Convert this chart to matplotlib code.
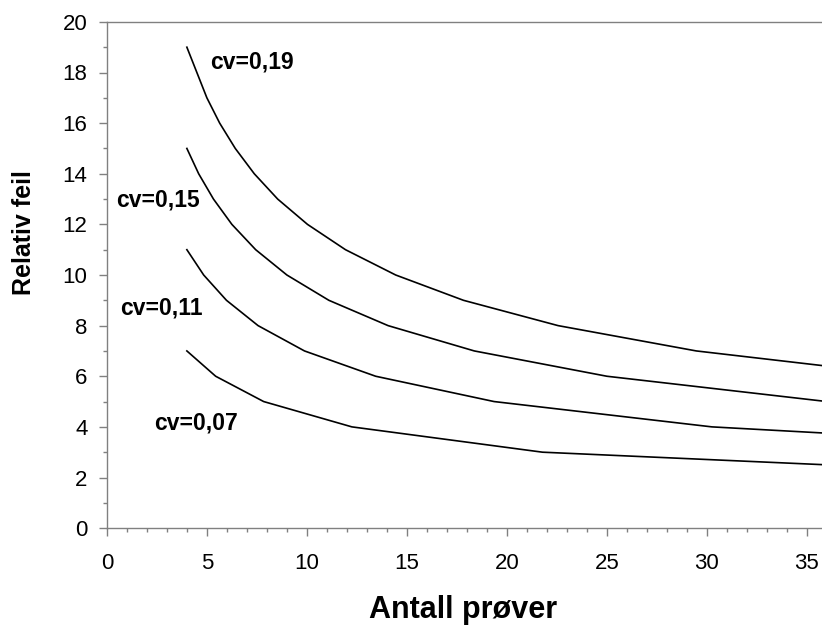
import matplotlib.pyplot as plt
from matplotlib.ticker import MultipleLocator

plt.rcParams['font.family'] = ['Liberation Sans', 'DejaVu Sans']

# Curves: antall prøver (x) vs relativ feil (y)
x_cv19 = [4, 5.0, 5.64, 6.42, 7.37, 8.54, 10.03, 11.93, 14.44, 17.83, 22.56, 29.47, 36]
y_cv19 = [19, 17, 16, 15, 14, 13, 12, 11, 10, 9, 8, 7, 6.4]

x_cv15 = [4, 4.59, 5.33, 6.25, 7.44, 9.0, 11.1, 14.06, 18.37, 25.0, 36]
y_cv15 = [15, 14, 13, 12, 11, 10, 9, 8, 7, 6, 5]

x_cv11 = [4, 4.84, 5.98, 7.56, 9.88, 13.44, 19.36, 30.25, 36]
y_cv11 = [11, 10, 9, 8, 7, 6, 5, 4, 3.75]

x_cv07 = [4, 5.44, 7.84, 12.25, 21.78, 36]
y_cv07 = [7, 6, 5, 4, 3, 2.5]

curves = [(x_cv19, y_cv19), (x_cv15, y_cv15), (x_cv11, y_cv11), (x_cv07, y_cv07)]
labels = ['cv=0,19', 'cv=0,15', 'cv=0,11', 'cv=0,07']
label_pos = [(5.15, 18.4), (0.45, 12.95), (0.65, 8.7), (2.35, 4.15)]

fig = plt.figure(figsize=(8.22, 6.25), dpi=100)
ax = fig.add_axes([0.130, 0.155, 0.876, 0.810])

for xs, ys in curves:
    ax.plot(xs, ys, color='black', linewidth=1.2)

for text, (tx, ty) in zip(labels, label_pos):
    ax.text(tx, ty, text, fontsize=16.5, fontweight='bold', ha='left', va='center')

ax.set_xlim(0, 36)
ax.set_ylim(0, 20)
ax.xaxis.set_major_locator(MultipleLocator(5))
ax.xaxis.set_minor_locator(MultipleLocator(1))
ax.yaxis.set_major_locator(MultipleLocator(2))
ax.yaxis.set_minor_locator(MultipleLocator(1))

spine_color = '#808080'
for side in ['left', 'bottom', 'top', 'right']:
    ax.spines[side].set_color(spine_color)
    ax.spines[side].set_linewidth(1.0)

ax.tick_params(axis='both', which='major', direction='out', length=6, width=1,
               color=spine_color, labelsize=16)
ax.tick_params(axis='x', which='major', pad=12)
ax.tick_params(axis='y', which='major', pad=8)
ax.tick_params(axis='both', which='minor', direction='out', length=3, width=1,
               color=spine_color)

ax.set_xlabel('Antall prøver', fontsize=22, fontweight='bold')
ax.set_ylabel('Relativ feil', fontsize=18, fontweight='bold')
ax.xaxis.set_label_coords(0.494, -0.132)
ax.yaxis.set_label_coords(-0.098, 0.583)

fig.savefig('out.png', dpi=100)
